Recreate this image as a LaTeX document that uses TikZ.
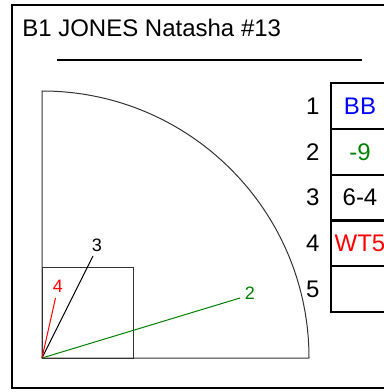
\documentclass[tikz,border=0pt]{standalone}
\usepackage{fontspec}
\setmainfont{Liberation Sans}
\usetikzlibrary{positioning}
\definecolor{hitgreen}{RGB}{0,128,0}

\begin{document}
\begin{tikzpicture}[x=0.75pt, y=-0.75pt,
    frame/.style={line width=1.5pt},
    field/.style={draw=black!80, line width=0.75pt},
    spray/.style={line width=0.75pt},
    cell/.style={draw, line width=1.5pt, minimum width=44pt, minimum height=34.4pt, inner sep=0pt, font=\fontsize{18}{20}\selectfont},
    num/.style={inner sep=0pt, font=\fontsize{18}{20}\selectfont},
    tag/.style={inner sep=1pt, font=\fontsize{13.5}{15}\selectfont}
]
\useasboundingbox (0,0) rectangle (383,392);
\draw[frame] (12,5) rectangle (430,388);
\node[anchor=base west, inner sep=0pt, font=\fontsize{18}{20}\selectfont] (title) at (22,37) {B1 JONES Natasha \#13};
\coordinate (ulstart) at (57,60);
\coordinate (ulend) at (362,60);
\draw[frame] (ulstart) -- (ulend);

% field
\coordinate (home) at (42,358);
\coordinate (foul) at (309,358);
\coordinate (top) at (42,91);
\draw[field] (foul) -- (home) -- (top) arc[start angle=90, end angle=0, radius=200.25pt];
\draw[field] (home) rectangle (133,267);

% hits
\coordinate (end2) at (240,298);
\coordinate (end3) at (93,256);
\coordinate (end4) at (55.5,298);
\draw[spray, hitgreen] (home) -- (end2);
\node[tag, text=hitgreen] (lbl2) at (250,293) {2};
\draw[spray] (home) -- (end3);
\node[tag] (lbl3) at (97,245) {3};
\draw[spray, red] (home) -- (end4);
\node[tag, text=red] (lbl4) at (58,286) {4};

% results
\foreach \res/\col [count=\i] in {BB/blue,-9/hitgreen,6-4/black,WT5/red,/black} {
  \node[cell, text=\col] (row\i) at (360,{106+45.8*(\i-1)}) {\res};
  \node[num, left=7.5pt of row\i] (num\i) {\i};
}
\end{tikzpicture}
\end{document}
